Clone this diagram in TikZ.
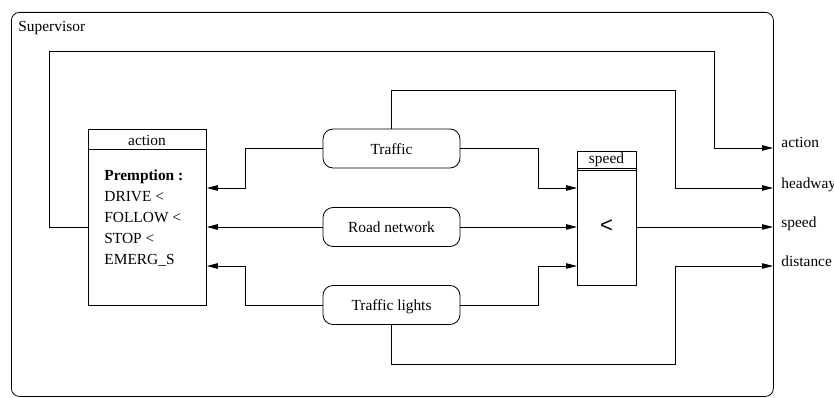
\documentclass[tikz,border=0pt]{standalone}
\usepackage{fontspec}
\setmainfont{Liberation Serif}
\newfontfamily\ltsans{Liberation Sans}
\usetikzlibrary{arrows.meta,calc}
\begin{document}
\begin{tikzpicture}[x=1pt,y=-1pt,
  font=\fontsize{15.4}{18}\selectfont, line width=0.8pt,
  arr/.style={-{Triangle[length=11pt,width=5.5pt]}},
  rbox/.style={draw, rounded corners=10pt, minimum width=137pt, minimum height=39pt,
               text height=11pt, text depth=0pt, inner sep=0pt},
  plainbox/.style={draw, anchor=north west, inner sep=0pt},
  lbl/.style={anchor=base west, inner sep=0pt},
  hdr/.style={anchor=base, inner sep=0pt}]
\useasboundingbox (0,0) rectangle (834,398);
% outer supervisor frame
\node[draw, rounded corners=8pt, minimum width=762pt, minimum height=384pt,
      anchor=north west, inner sep=0pt] (sup) at (11,12) {};
\node[lbl] (suplbl) at (18,32) {Supervisor};
% action box
\node[plainbox, minimum width=118pt, minimum height=176pt] (act) at (88,129) {};
\draw ($(act.north west)+(0,20)$) -- ($(act.north east)+(0,20)$);
\node[hdr] (acthead) at (147,146) {action};
\node[lbl] (l0) at (104,180) {\textbf{Premption :}};
\node[lbl] (l1) at (104,201) {DRIVE <};
\node[lbl] (l2) at (104,222) {FOLLOW <};
\node[lbl] (l3) at (104,243) {STOP <};
\node[lbl] (l4) at (104,264) {EMERG\_S};
% speed box
\node[plainbox, minimum width=59pt, minimum height=134pt] (spd) at (577,151) {};
\draw ($(spd.north west)+(0,17)$) -- ($(spd.north east)+(0,17)$);
\draw ($(spd.north west)+(0,19.5)$) -- ($(spd.north east)+(0,19.5)$);
\node[hdr] (spdhead) at (606.5,164) {speed};
\node[inner sep=0pt] (lt) at (606.5,226) {\ltsans\fontsize{22}{24}\selectfont <};
% rounded boxes
\node[rbox] (traffic) at (391.5,148.5) {Traffic};
\node[rbox] (road) at (391.5,227) {Road network};
\node[rbox] (lights) at (391.5,305) {Traffic lights};
% output ends
\coordinate (oact) at (773,148);
\coordinate (ohead) at (773,188);
\coordinate (ospeed) at (773,227);
\coordinate (odist) at (773,266);
\node[lbl] (tact) at (781,148) {action};
\node[lbl] (thead) at (781,188) {headway};
\node[lbl] (tspeed) at (781,227) {speed};
\node[lbl] (tdist) at (781,266) {distance};
% connectors to action box
\draw[arr] (traffic.west) -- (245,148.5) -- (245,188) -- ($(act.north east)+(0,59)$);
\draw[arr] (road.west) -- ($(act.north east)+(0,98)$);
\draw[arr] (lights.west) -- (245,305) -- (245,266) -- ($(act.north east)+(0,137)$);
% connectors to speed box
\draw[arr] (traffic.east) -- (538,148.5) -- (538,188) -- ($(spd.north west)+(0,37)$);
\draw[arr] (road.east) -- ($(spd.north west)+(0,76)$);
\draw[arr] (lights.east) -- (538,305) -- (538,266) -- ($(spd.north west)+(0,115)$);
% outputs
\draw[arr] ($(spd.north east)+(0,76)$) -- (ospeed);
\draw[arr] ($(act.north west)+(0,98)$) -- (49,227) -- (49,51) -- (714,51) -- (714,148) -- (oact);
\draw[arr] (traffic.north) -- (391.5,90) -- (675,90) -- (675,188) -- (ohead);
\draw[arr] (lights.south) -- (391.5,364) -- (675,364) -- (675,266) -- (odist);
\end{tikzpicture}
\end{document}
